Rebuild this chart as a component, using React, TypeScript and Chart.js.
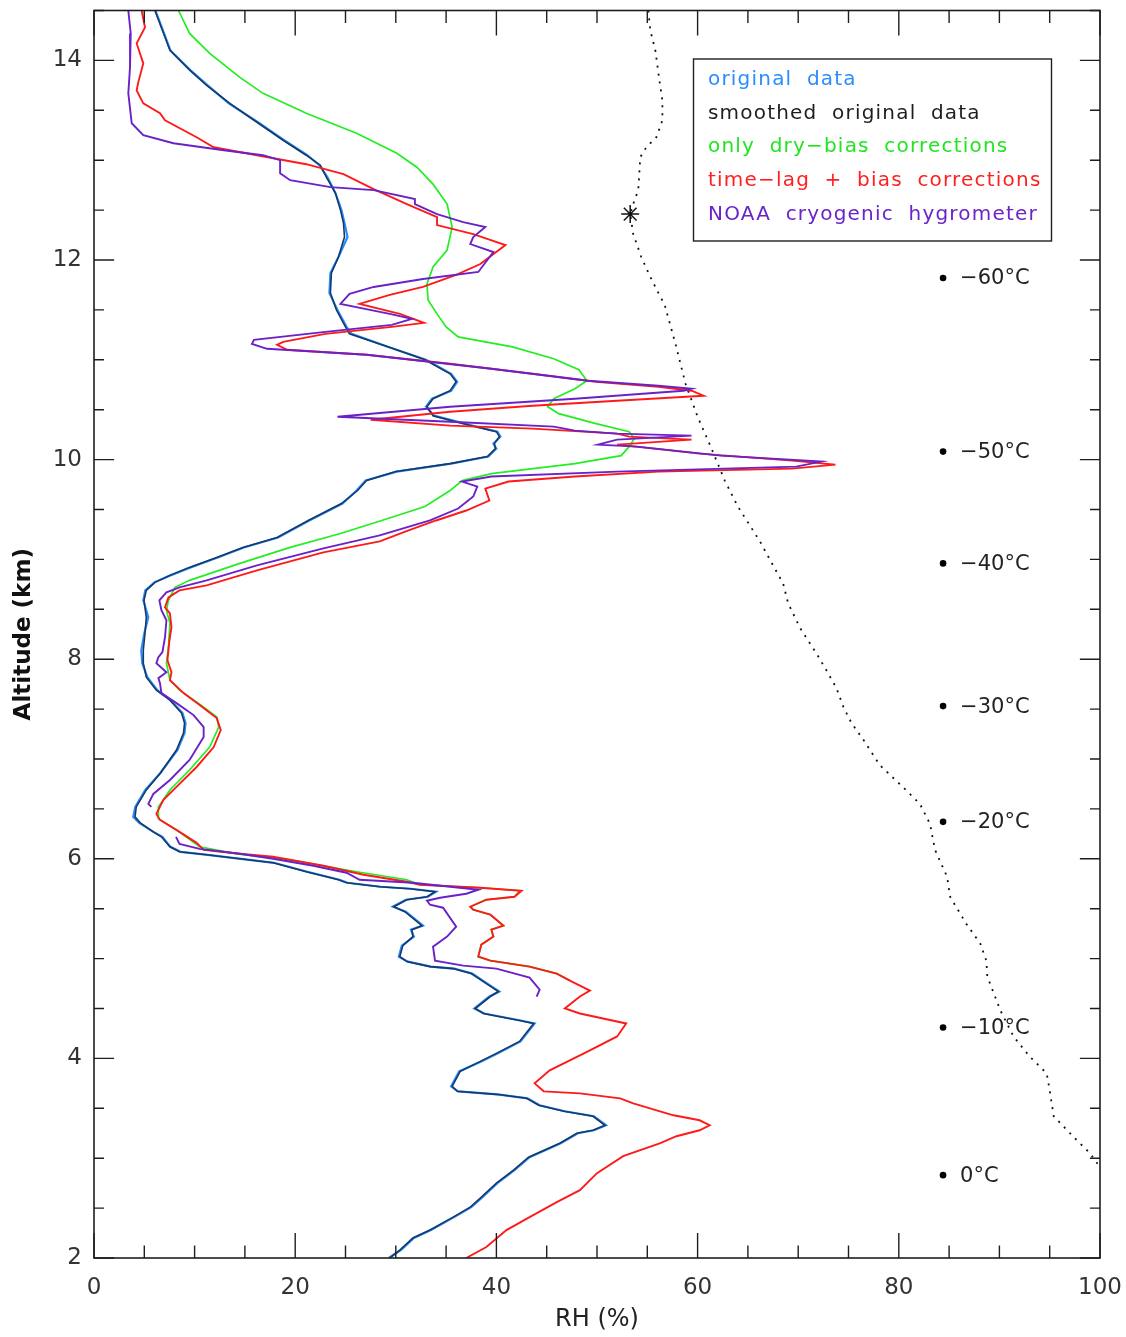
import React, { useEffect, useRef } from 'react';
import { Chart, registerables } from 'chart.js';

Chart.register(...registerables);

// ---------- axis ranges & ticks ----------
const X_MIN = 0;
const X_MAX = 100;
const X_MAJOR = 20;
const X_MINOR = 5;
const Y_MIN = 2;
const Y_MAX = 14.5;
const Y_MAJOR = 2;
const Y_MINOR = 0.5;
const X_TITLE = 'RH (%)';
const Y_TITLE = 'Altitude (km)';

// ---------- series: [altitude km, RH %] ----------
const smoothedOriginal: [number, number][] = [
  [14.5, 6.06], [14.1, 7.55], [13.9, 9.54], [13.75, 11.2], [13.57, 13.5], [13.38, 16.2], [13.2, 18.8],
  [13.05, 21.1], [12.95, 22.5], [12.83, 23.1], [12.67, 24.0], [12.5, 24.5], [12.37, 24.8], [12.23, 24.9],
  [12.03, 24.3], [11.87, 23.6], [11.67, 23.5], [11.5, 24.1], [11.33, 25.0], [11.26, 25.4], [11.13, 29.2],
  [11.0, 32.9], [10.86, 35.4], [10.78, 36.0], [10.69, 35.4], [10.61, 33.7], [10.53, 33.1], [10.44, 33.7],
  [10.34, 37.5], [10.28, 40.0], [10.23, 40.3], [10.16, 39.8], [10.11, 39.9], [10.03, 39.1], [9.96, 35.4],
  [9.88, 30.0], [9.79, 27.1], [9.69, 26.2], [9.56, 24.6], [9.39, 21.3], [9.22, 18.2], [9.12, 14.8],
  [9.02, 12.2], [8.92, 9.5], [8.84, 7.55], [8.77, 6.06], [8.69, 5.2], [8.59, 4.97], [8.42, 5.2],
  [8.26, 5.07], [8.09, 4.9], [7.96, 4.9], [7.82, 5.2], [7.69, 6.2], [7.59, 7.55], [7.46, 8.7],
  [7.36, 9.0], [7.26, 8.9], [7.09, 8.2], [6.86, 6.6], [6.69, 5.2], [6.52, 4.2], [6.42, 4.08],
  [6.36, 4.6], [6.27, 5.9], [6.22, 6.7], [6.12, 7.55], [6.07, 8.5], [6.04, 11.2], [6.0, 14.5],
  [5.96, 17.8], [5.87, 21.1], [5.79, 24.3], [5.76, 25.1], [5.72, 28.4], [5.7, 31.4], [5.67, 33.9],
  [5.62, 33.1], [5.59, 31.1], [5.52, 29.8], [5.47, 30.9], [5.33, 32.6], [5.29, 31.6], [5.22, 31.7],
  [5.13, 30.7], [5.02, 30.4], [4.97, 31.1], [4.92, 33.4], [4.9, 35.7], [4.85, 37.5], [4.75, 39.0],
  [4.67, 40.2], [4.62, 39.4], [4.5, 37.9], [4.45, 38.7], [4.38, 42.3], [4.35, 43.7], [4.17, 42.3],
  [4.05, 40.0], [3.97, 38.4], [3.87, 36.4], [3.72, 35.6], [3.67, 36.1], [3.64, 40.0], [3.6, 43.0],
  [3.53, 44.2], [3.47, 46.7], [3.42, 49.6], [3.33, 50.8], [3.28, 49.6], [3.25, 48.0], [3.15, 46.3],
  [3.01, 43.2], [2.88, 41.7], [2.75, 40.0], [2.6, 38.4], [2.51, 37.4], [2.41, 35.7], [2.28, 33.4],
  [2.2, 31.7], [2.08, 30.4], [2.0, 29.4],
];

const originalData: [number, number][] = [
  [14.5, 6.1], [14.1, 7.6], [13.9, 9.6], [13.75, 11.3], [13.57, 13.4], [13.38, 16.3], [13.2, 18.9],
  [13.05, 21.2], [12.95, 22.4], [12.83, 23.2], [12.67, 24.0], [12.5, 24.6], [12.37, 24.9], [12.23, 25.2],
  [12.03, 24.3], [11.87, 23.5], [11.67, 23.4], [11.5, 24.2], [11.33, 25.1], [11.26, 25.6], [11.13, 29.2],
  [11.0, 33.0], [10.86, 35.5], [10.78, 36.1], [10.69, 35.5], [10.61, 33.6], [10.53, 33.0], [10.44, 33.8],
  [10.34, 37.6], [10.28, 40.1], [10.23, 40.4], [10.16, 39.7], [10.11, 40.0], [10.03, 39.2], [9.96, 35.5],
  [9.88, 30.1], [9.79, 27.0], [9.69, 26.1], [9.56, 24.7], [9.39, 21.4], [9.22, 18.3], [9.12, 14.9],
  [9.02, 12.3], [8.92, 9.6], [8.84, 7.6], [8.77, 6.0], [8.69, 5.1], [8.59, 4.9], [8.42, 5.4],
  [8.26, 5.0], [8.09, 4.7], [7.96, 4.8], [7.82, 5.3], [7.69, 6.3], [7.59, 7.6], [7.46, 8.8],
  [7.36, 9.1], [7.26, 9.0], [7.09, 8.3], [6.86, 6.6], [6.69, 5.1], [6.52, 4.1], [6.42, 3.9],
  [6.36, 4.5], [6.27, 5.9], [6.22, 6.8], [6.12, 7.6], [6.07, 8.6], [6.04, 11.3], [6.0, 14.6],
  [5.96, 17.9], [5.87, 21.2], [5.79, 24.4], [5.76, 25.2], [5.72, 28.5], [5.7, 31.5], [5.67, 34.0],
  [5.62, 33.2], [5.59, 31.0], [5.52, 29.7], [5.47, 31.0], [5.33, 32.7], [5.29, 31.5], [5.22, 31.8],
  [5.13, 30.6], [5.02, 30.3], [4.97, 31.2], [4.92, 33.5], [4.9, 35.8], [4.85, 37.6], [4.75, 39.1],
  [4.67, 40.3], [4.62, 39.3], [4.5, 37.8], [4.45, 38.8], [4.38, 42.4], [4.35, 43.8], [4.17, 42.4],
  [4.05, 40.1], [3.97, 38.5], [3.87, 36.3], [3.72, 35.5], [3.67, 36.2], [3.64, 40.1], [3.6, 43.1],
  [3.53, 44.3], [3.47, 46.8], [3.42, 49.7], [3.33, 50.9], [3.28, 49.7], [3.25, 48.1], [3.15, 46.4],
  [3.01, 43.3], [2.88, 41.8], [2.75, 40.1], [2.6, 38.5], [2.51, 37.5], [2.41, 35.8], [2.28, 33.5],
  [2.2, 31.8], [2.08, 30.5], [2.0, 29.3],
];

const dryBiasOnly: [number, number][] = [
  [14.5, 8.4], [14.27, 9.5], [14.07, 11.5], [13.83, 14.5], [13.67, 16.8], [13.47, 21.1], [13.27, 26.1],
  [13.07, 30.1], [12.93, 32.1], [12.76, 33.7], [12.56, 35.1], [12.33, 35.6], [12.1, 35.1], [11.93, 33.7],
  [11.76, 33.1], [11.6, 33.2], [11.46, 34.1], [11.33, 35.0], [11.23, 36.2], [11.13, 41.6], [11.01, 45.7],
  [10.9, 48.2], [10.79, 49.0], [10.71, 47.8], [10.61, 45.7], [10.53, 45.1], [10.46, 46.2], [10.36, 49.9],
  [10.28, 53.2], [10.21, 53.7], [10.13, 53.2], [10.04, 52.4], [9.96, 47.8], [9.86, 39.5], [9.79, 36.6],
  [9.69, 35.4], [9.53, 32.9], [9.39, 28.6], [9.26, 24.5], [9.12, 19.5], [8.96, 14.5], [8.79, 9.5],
  [8.72, 8.05], [8.59, 7.4], [8.49, 7.2], [8.36, 7.55], [8.12, 7.4], [7.96, 7.2], [7.79, 7.55],
  [7.69, 8.5], [7.55, 10.5], [7.42, 12.2], [7.32, 12.4], [7.12, 11.5], [6.89, 9.5], [6.69, 7.55],
  [6.52, 6.4], [6.4, 6.4], [6.29, 8.2], [6.12, 10.5], [6.05, 14.2], [5.99, 19.5], [5.87, 26.1],
  [5.79, 31.1], [5.74, 32.4], [5.71, 38.4], [5.68, 42.3], [5.62, 41.8], [5.59, 39.0], [5.52, 37.4],
  [5.49, 37.7], [5.44, 39.4], [5.33, 40.7], [5.29, 39.5], [5.22, 39.7], [5.14, 38.5], [5.02, 38.2],
  [4.98, 39.4], [4.92, 43.3], [4.85, 46.0], [4.78, 47.3],
];

const timeLagBias: [number, number][] = [
  [14.5, 4.74], [14.33, 5.07], [14.17, 4.24], [13.97, 4.9], [13.78, 4.4], [13.7, 4.24], [13.57, 4.9],
  [13.47, 6.56], [13.4, 7.06], [13.23, 10.2], [13.13, 11.9], [13.05, 16.2], [12.96, 21.1], [12.86, 24.8],
  [12.71, 27.8], [12.56, 31.1], [12.43, 34.1], [12.35, 34.1], [12.26, 37.7], [12.15, 40.9], [11.96, 38.4],
  [11.85, 36.0], [11.73, 32.7], [11.65, 29.4], [11.56, 26.4], [11.46, 30.4], [11.37, 32.8], [11.33, 29.6],
  [11.26, 23.0], [11.18, 18.8], [11.15, 18.2], [11.1, 19.2], [11.05, 27.1], [10.96, 35.4], [10.86, 43.6],
  [10.78, 49.9], [10.73, 56.1], [10.69, 59.4], [10.64, 60.6], [10.59, 52.0], [10.54, 43.6], [10.48, 35.4],
  [10.4, 27.5], [10.34, 35.4], [10.31, 43.6], [10.26, 52.0], [10.23, 53.2], [10.2, 59.4], [10.15, 52.0],
  [10.06, 60.2], [9.99, 69.4], [9.95, 73.7], [9.91, 69.4], [9.88, 56.1], [9.83, 47.8], [9.78, 41.2],
  [9.71, 38.9], [9.59, 39.3], [9.49, 37.0], [9.39, 34.0], [9.28, 31.0], [9.18, 28.4], [9.07, 22.8],
  [8.89, 16.2], [8.74, 11.2], [8.69, 8.5], [8.62, 7.4], [8.52, 7.06], [8.46, 7.55], [8.32, 7.7],
  [8.19, 7.5], [7.99, 7.3], [7.87, 7.7], [7.79, 7.55], [7.66, 8.9], [7.54, 10.5], [7.41, 12.2],
  [7.29, 12.6], [7.12, 11.9], [6.92, 10.2], [6.72, 8.2], [6.59, 6.9], [6.45, 6.2], [6.39, 6.56],
  [6.27, 8.5], [6.16, 10.2], [6.09, 10.9], [6.05, 14.5], [6.02, 17.8], [5.93, 22.8], [5.84, 26.8],
  [5.77, 31.1], [5.74, 32.4], [5.71, 38.4], [5.68, 42.5], [5.62, 41.8], [5.59, 39.0], [5.52, 37.4],
  [5.49, 37.7], [5.44, 39.4], [5.33, 40.7], [5.29, 39.5], [5.22, 39.7], [5.14, 38.5], [5.02, 38.2],
  [4.98, 39.4], [4.92, 43.3], [4.85, 46.0], [4.78, 47.3], [4.68, 49.3], [4.62, 48.3], [4.5, 46.8],
  [4.45, 48.3], [4.35, 52.9], [4.22, 52.0], [4.07, 49.1], [3.98, 47.3], [3.88, 45.3], [3.75, 43.8],
  [3.67, 44.7], [3.65, 48.3], [3.6, 52.3], [3.55, 53.6], [3.43, 57.6], [3.38, 60.2], [3.33, 61.2],
  [3.28, 60.2], [3.22, 57.9], [3.15, 56.3], [3.02, 52.6], [2.85, 50.0], [2.68, 48.3], [2.56, 46.0],
  [2.41, 43.3], [2.28, 41.0], [2.11, 39.0], [2.0, 37.0],
];

// null entry = gap in the hygrometer record
const noaaHygrometer: [number | null, number | null][] = [
  [14.5, 3.41], [14.27, 3.65], [13.93, 3.58], [13.67, 3.41], [13.37, 3.75], [13.25, 4.9], [13.17, 7.9],
  [13.1, 12.9], [13.05, 16.8], [13.0, 18.5], [12.87, 18.5], [12.8, 19.5], [12.73, 23.5], [12.7, 27.8],
  [12.61, 31.9], [12.56, 31.9], [12.46, 34.1], [12.38, 36.7], [12.33, 38.9], [12.23, 37.7], [12.16, 37.4],
  [12.08, 39.7], [11.88, 38.2], [11.81, 32.7], [11.73, 27.8], [11.66, 25.4], [11.56, 24.5], [11.46, 29.4],
  [11.41, 31.6], [11.35, 29.6], [11.28, 23.0], [11.2, 15.9], [11.16, 15.7], [11.11, 17.2], [11.05, 27.1],
  [10.91, 39.5], [10.79, 49.1], [10.74, 56.1], [10.71, 59.4], [10.69, 58.6], [10.61, 47.8], [10.53, 35.4],
  [10.43, 24.2], [10.38, 35.4], [10.33, 45.7], [10.29, 47.8], [10.26, 52.0], [10.24, 59.4], [10.2, 52.0],
  [10.15, 50.1], [10.13, 54.0], [10.04, 62.3], [9.98, 72.3], [9.93, 69.8], [9.88, 52.0], [9.83, 39.5],
  [9.78, 36.6], [9.73, 38.1], [9.63, 37.7], [9.51, 36.2], [9.39, 33.4], [9.24, 28.4], [9.11, 22.8],
  [8.94, 16.2], [8.79, 11.2], [8.72, 8.5], [8.67, 7.2], [8.59, 6.5], [8.49, 6.7], [8.39, 7.2],
  [8.22, 7.06], [8.07, 6.8], [8.02, 6.4], [7.96, 6.2], [7.87, 7.2], [7.81, 6.4], [7.76, 6.56],
  [7.66, 6.7], [7.56, 8.2], [7.44, 9.9], [7.32, 10.9], [7.22, 10.9], [6.99, 9.5], [6.79, 7.55],
  [6.65, 5.9], [6.55, 5.4], [6.52, 5.7], [null, null], [6.22, 8.15], [6.15, 8.5], [6.1, 10.5],
  [6.05, 14.5], [6.0, 17.8], [5.93, 21.8], [5.86, 25.1], [5.79, 26.4], [5.76, 31.7], [5.69, 38.2],
  [5.65, 37.0], [5.61, 34.4], [5.58, 33.1], [5.54, 33.4], [5.51, 34.7], [5.32, 36.0], [5.22, 35.1],
  [5.12, 33.7], [4.98, 33.9], [4.93, 36.7], [4.9, 40.0], [4.81, 43.3], [4.69, 44.3], [4.62, 44.0],
];

// dotted reference profile
const dottedProfile: [number, number][] = [
  [14.5, 55.1], [14.3, 55.3], [14.1, 55.8], [13.8, 56.2], [13.6, 56.5], [13.4, 56.5], [13.23, 55.9],
  [13.13, 54.9], [13.03, 54.3], [12.86, 54.2], [12.7, 54.1], [12.56, 53.6], [12.46, 53.3], [12.26, 53.6],
  [12.03, 54.4], [11.83, 55.3], [11.63, 56.3], [11.56, 56.7], [11.16, 57.8], [10.76, 58.8], [10.43, 60.0],
  [10.13, 61.3], [9.79, 62.7], [9.53, 64.0], [9.18, 66.2], [8.94, 67.5], [8.76, 68.5], [8.56, 69.0],
  [8.31, 70.2], [8.06, 71.8], [7.89, 72.8], [7.71, 73.8], [7.52, 74.5], [7.36, 75.3], [7.19, 76.5],
  [6.94, 78.1], [6.7, 80.6], [6.55, 82.1], [6.35, 83.1], [6.09, 83.6], [5.82, 84.8], [5.62, 85.1],
  [5.35, 86.7], [5.15, 88.1], [4.98, 88.7], [4.82, 88.8], [4.48, 90.1], [4.22, 91.4], [4.02, 93.0],
  [3.85, 94.7], [3.68, 95.0], [3.42, 95.4], [3.22, 97.3], [3.05, 99.0], [2.91, 100.0],
];

const starMarker: [number, number][] = [[12.46, 53.3]];

// temperature markers
const tempMarkerRH = 84.4;
const tempAltitudes = [11.82, 10.08, 8.96, 7.53, 6.37, 4.31, 2.83];
const tempLabels = ['\u221260\u00b0C', '\u221250\u00b0C', '\u221240\u00b0C', '\u221230\u00b0C', '\u221220\u00b0C', '\u221210\u00b0C', '0\u00b0C'];

// legend
const legendLabels = ['original data', 'smoothed original data', 'only dry\u2212bias corrections', 'time\u2212lag + bias corrections', 'NOAA cryogenic hygrometer'];
const legendColors = ['#2a8cff', '#1e1e1e', '#22e522', '#ff1f1f', '#6a24c8'];

const COLORS = {
  original: '#2a8cff',
  smoothed: '#163a66',
  dry: '#22ee22',
  lag: '#ff1a1a',
  noaa: '#6a22c8',
};

const toPts = (arr: (number | null)[][]) => arr.map(([alt, rh]) => ({ x: rh, y: alt }));

export default function App() {
  const ref = useRef<HTMLCanvasElement>(null);

  useEffect(() => {
    const canvas = ref.current;
    if (!canvas) return;

    const framePlugin = {
      id: 'frameTicks',
      afterDatasetsDraw(chart: any) {
        const { ctx, chartArea: a, scales } = chart;
        const xs = scales.x;
        const ys = scales.y;
        const w = a.right - a.left;
        const h = a.bottom - a.top;
        ctx.save();
        ctx.strokeStyle = '#1e1e1e';
        ctx.lineWidth = 1.4;
        ctx.beginPath();
        const nx = Math.round((X_MAX - X_MIN) / X_MINOR);
        const xr = Math.round(X_MAJOR / X_MINOR);
        for (let i = 0; i <= nx; i++) {
          const px = xs.getPixelForValue(X_MIN + i * X_MINOR);
          const len = (i % xr === 0 ? 0.02 : 0.01) * h;
          ctx.moveTo(px, a.bottom);
          ctx.lineTo(px, a.bottom - len);
          ctx.moveTo(px, a.top);
          ctx.lineTo(px, a.top + len);
        }
        const ny = Math.floor((Y_MAX - Y_MIN) / Y_MINOR + 1e-6);
        const yr = Math.round(Y_MAJOR / Y_MINOR);
        for (let i = 0; i <= ny; i++) {
          const py = ys.getPixelForValue(Y_MIN + i * Y_MINOR);
          const len = (i % yr === 0 ? 0.02 : 0.01) * w;
          ctx.moveTo(a.left, py);
          ctx.lineTo(a.left + len, py);
          ctx.moveTo(a.right, py);
          ctx.lineTo(a.right - len, py);
        }
        ctx.stroke();
        ctx.lineWidth = 1.6;
        ctx.strokeRect(a.left, a.top, w, h);

        // temperature labels
        ctx.fillStyle = '#222';
        ctx.font = '400 21px "DejaVu Sans"';
        ctx.textBaseline = 'middle';
        ctx.textAlign = 'left';
        const tx = xs.getPixelForValue(tempMarkerRH) + 17;
        tempAltitudes.forEach((alt, i) => {
          ctx.fillText(tempLabels[i], tx, ys.getPixelForValue(alt) + 1);
        });
        ctx.restore();
      },
    };

    const legendPlugin = {
      id: 'textLegend',
      afterDraw(chart: any) {
        const { ctx, chartArea: a } = chart;
        const bx = a.left + 599;
        const by = a.top + 48;
        const bw = 358;
        const bh = 182;
        ctx.save();
        ctx.fillStyle = '#ffffff';
        ctx.fillRect(bx, by, bw, bh);
        ctx.strokeStyle = '#1e1e1e';
        ctx.lineWidth = 1.4;
        ctx.strokeRect(bx + 0.5, by + 0.5, bw, bh);
        ctx.font = '400 20px "DejaVu Sans"';
        (ctx as any).letterSpacing = '1.2px';
        (ctx as any).wordSpacing = '7px';
        ctx.textBaseline = 'middle';
        ctx.textAlign = 'left';
        legendLabels.forEach((t, i) => {
          ctx.fillStyle = legendColors[i];
          ctx.fillText(t, bx + 15, by + 21 + i * 33.8);
        });
        ctx.restore();
      },
    };

    const tickFont = { family: 'DejaVu Sans', size: 23, weight: 400 as any };

    const chart = new Chart(canvas, {
      type: 'scatter',
      data: {
        datasets: [
          {
            label: 'NOAA cryogenic hygrometer',
            data: toPts(noaaHygrometer) as any,
            showLine: true,
            borderColor: COLORS.noaa,
            borderWidth: 1.9,
            pointRadius: 0,
            spanGaps: false,
          },
          {
            label: 'time-lag + bias corrections',
            data: toPts(timeLagBias) as any,
            showLine: true,
            borderColor: COLORS.lag,
            borderWidth: 1.9,
            pointRadius: 0,
          },
          {
            label: 'only dry-bias corrections',
            data: toPts(dryBiasOnly) as any,
            showLine: true,
            borderColor: COLORS.dry,
            borderWidth: 1.7,
            pointRadius: 0,
          },
          {
            label: 'smoothed original data',
            data: toPts(smoothedOriginal) as any,
            showLine: true,
            borderColor: COLORS.smoothed,
            borderWidth: 1.6,
            pointRadius: 0,
          },
          {
            label: 'original data',
            data: toPts(originalData) as any,
            showLine: true,
            borderColor: COLORS.original,
            borderWidth: 2.2,
            pointRadius: 0,
          },
          {
            label: 'dotted profile',
            data: toPts(dottedProfile) as any,
            showLine: true,
            borderColor: '#111111',
            borderWidth: 1.8,
            borderDash: [2, 6],
            pointRadius: 0,
          },
          {
            label: 'marker',
            data: toPts(starMarker) as any,
            showLine: false,
            pointStyle: 'star',
            pointRadius: 9,
            borderColor: '#111111',
            borderWidth: 1.5,
          },
          {
            label: 'temperature',
            data: tempAltitudes.map((alt) => ({ x: tempMarkerRH, y: alt })),
            showLine: false,
            pointStyle: 'circle',
            pointRadius: 3.3,
            backgroundColor: '#000000',
            borderColor: '#000000',
            borderWidth: 0,
          },
        ],
      },
      options: {
        responsive: false,
        animation: false,
        devicePixelRatio: 1,
        events: [],
        layout: { padding: { top: 10, right: 26, left: 0, bottom: 0 } },
        plugins: {
          legend: { display: false },
          tooltip: { enabled: false },
        },
        elements: { line: { tension: 0 } },
        scales: {
          x: {
            type: 'linear',
            position: 'bottom',
            min: X_MIN,
            max: X_MAX,
            ticks: { stepSize: X_MAJOR, font: tickFont, color: '#333', padding: 16, maxRotation: 0 },
            grid: { display: false, drawTicks: false },
            border: { display: false },
            title: {
              display: true,
              text: X_TITLE,
              color: '#222',
              font: { family: 'DejaVu Sans', size: 24, weight: 400 as any },
              padding: { top: 0, bottom: 3 },
            },
            afterFit: (s: any) => {
              s.height = 79;
              s.paddingLeft = 0;
              s.paddingRight = 0;
            },
          },
          y: {
            type: 'linear',
            position: 'left',
            min: Y_MIN,
            max: Y_MAX,
            ticks: { stepSize: Y_MAJOR, includeBounds: false, font: tickFont, color: '#333', padding: 12 },
            grid: { display: false, drawTicks: false },
            border: { display: false },
            title: {
              display: true,
              text: Y_TITLE,
              color: '#111',
              font: { family: 'DejaVu Sans', size: 23, weight: 'bold' },
              padding: { top: 10, bottom: 0 },
            },
            afterFit: (s: any) => {
              s.width = 94;
              s.paddingTop = 0;
              s.paddingBottom = 0;
            },
          },
        },
      },
      plugins: [framePlugin, legendPlugin],
    });

    return () => chart.destroy();
  }, []);

  return (
    <div style={{ position: 'absolute', left: 0, top: 0, width: 1126, height: 1337, background: '#fff' }}>
      <canvas ref={ref} width={1126} height={1337} style={{ display: 'block' }} />
    </div>
  );
}
